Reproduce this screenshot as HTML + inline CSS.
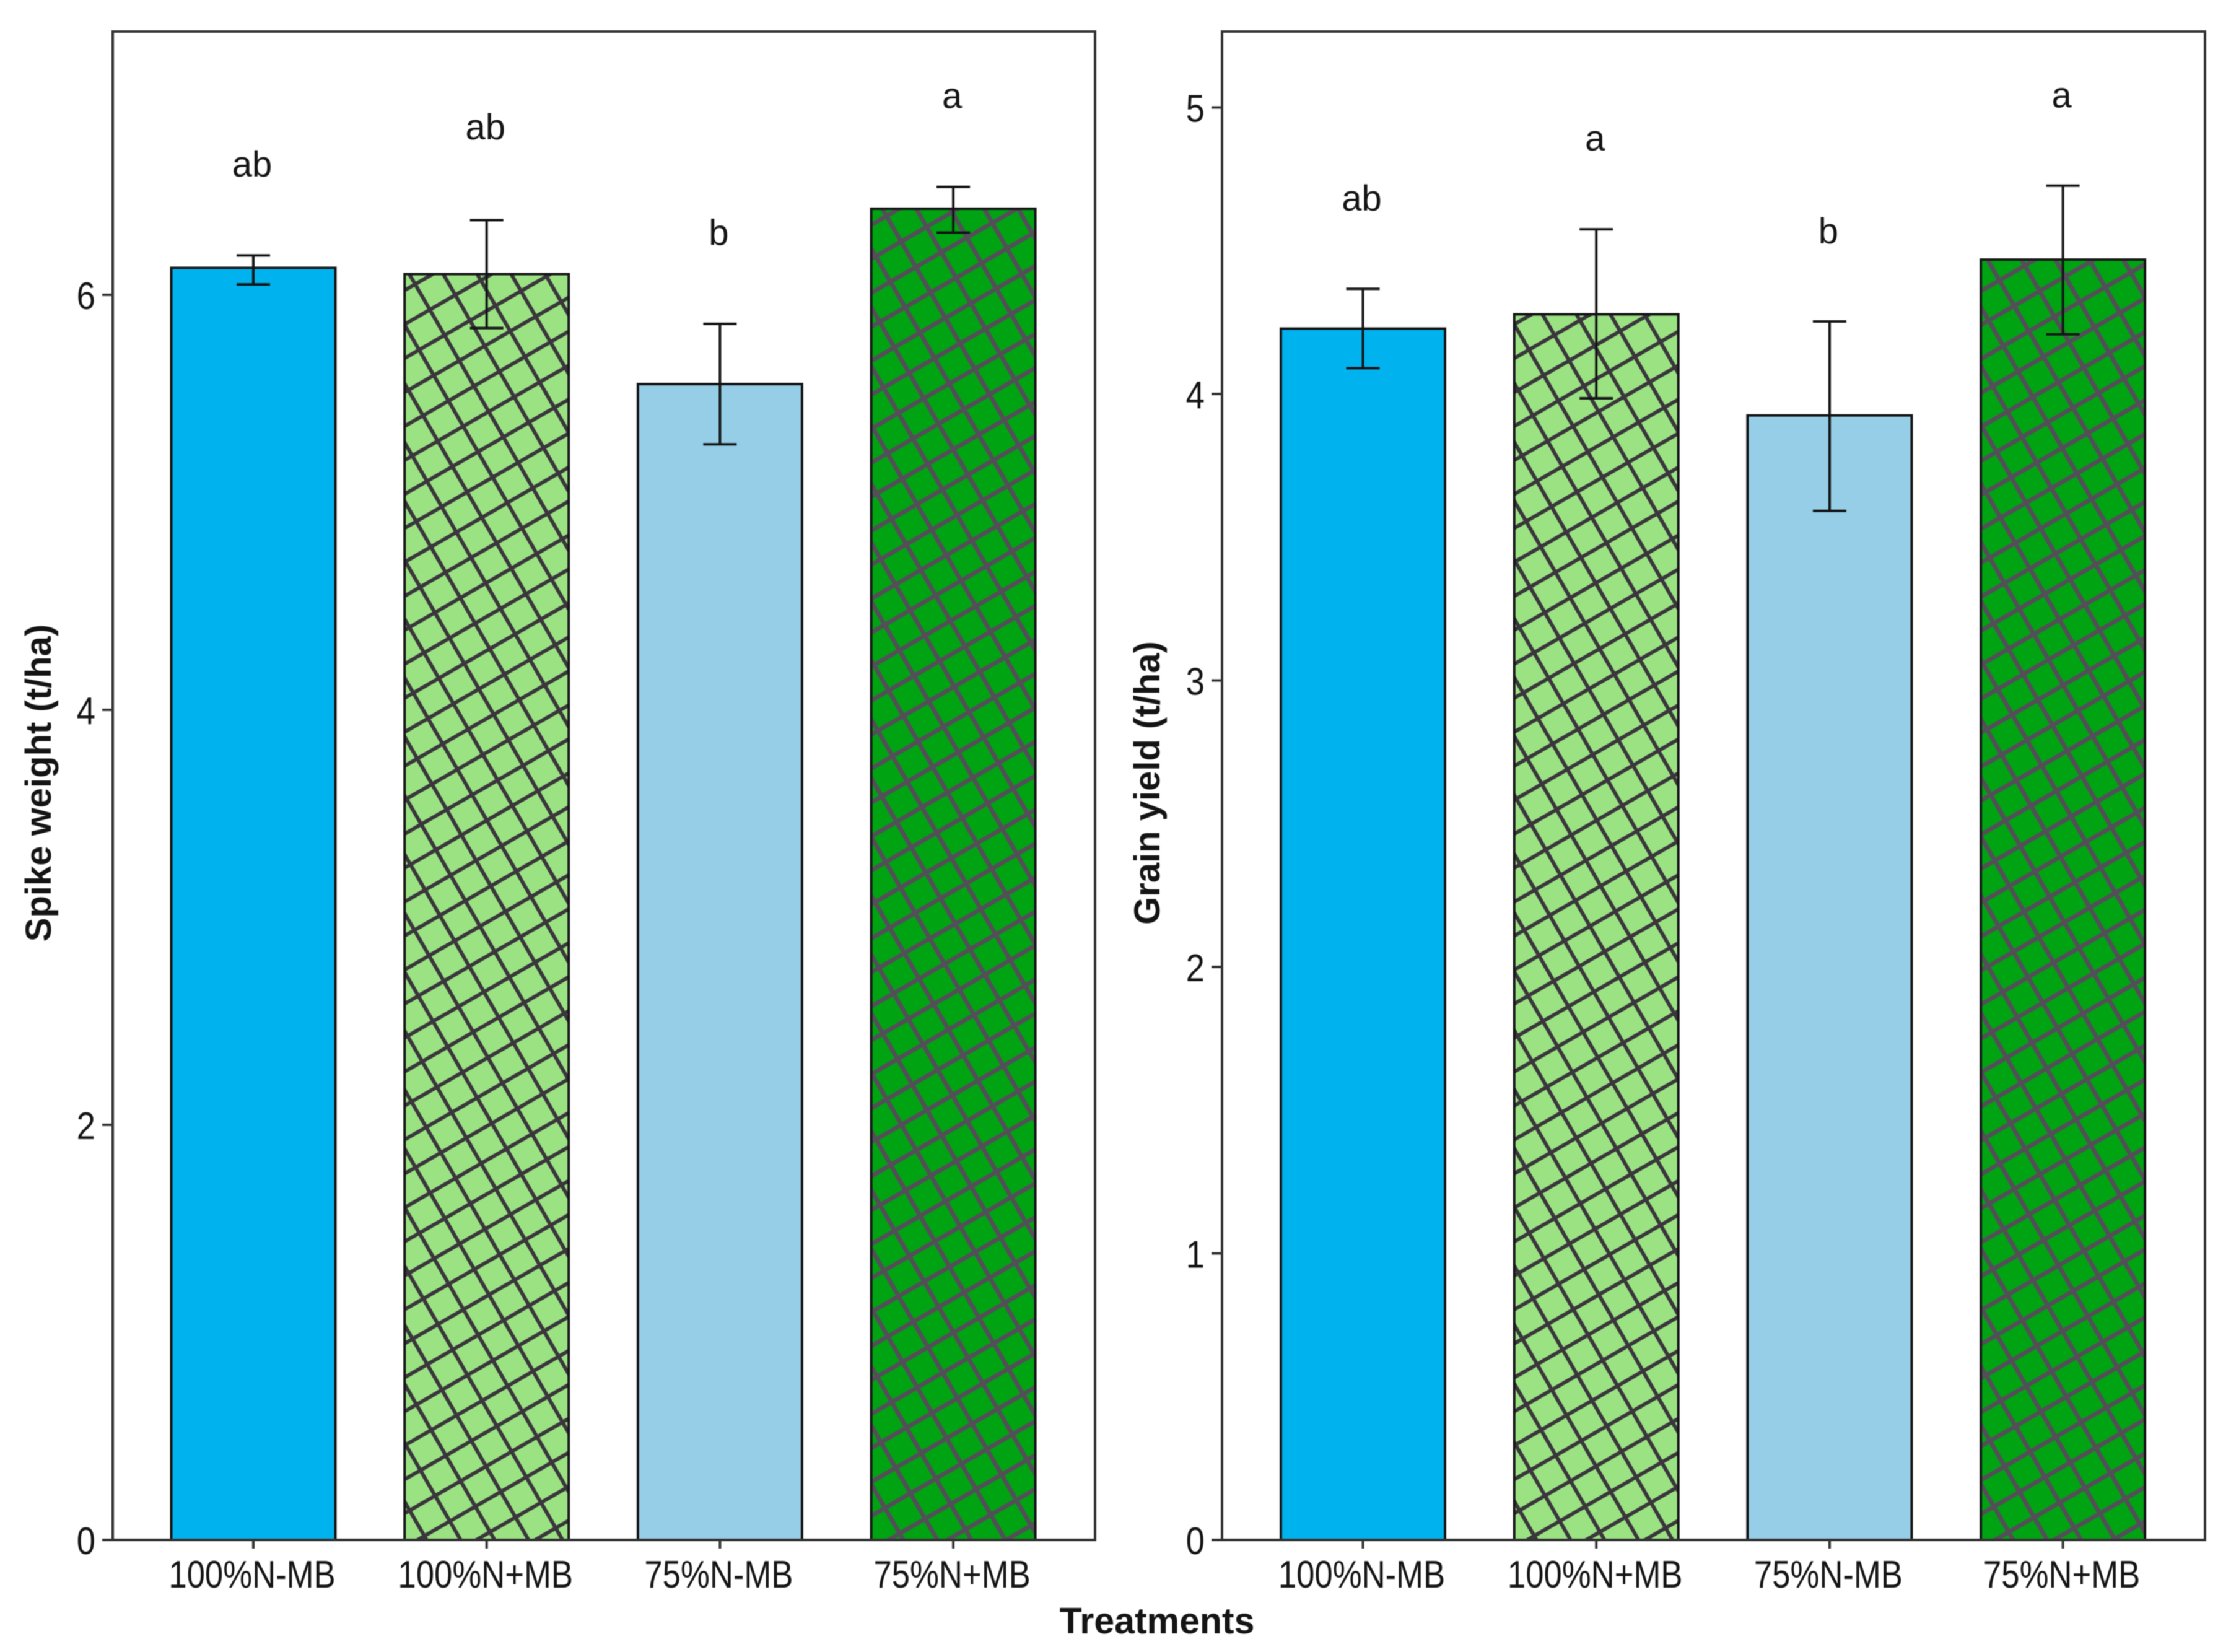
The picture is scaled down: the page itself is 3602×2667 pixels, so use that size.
<!DOCTYPE html>
<html lang="en">
<head>
<meta charset="utf-8">
<title>Spike weight and grain yield by treatment</title>
<style>
  html, body { margin: 0; padding: 0; background: #ffffff; }
  #figure { display: block; filter: blur(0.7px); }
  text { font-family: "Liberation Sans", sans-serif; fill: #141414; }
</style>
</head>
<body>
<svg id="figure" xmlns="http://www.w3.org/2000/svg" width="3602" height="2667" viewBox="0 0 3602 2667">
  <defs>
    <pattern id="hatch-spike-1" width="47.5" height="47.5" patternUnits="userSpaceOnUse" patternTransform="translate(694 500) rotate(-30)">
      <path d="M0 0H47.5M0 47.5H47.5M0 0V47.5M47.5 0V47.5" fill="none" stroke="#3a363c" stroke-width="6"/>
    </pattern>
    <pattern id="hatch-spike-3" width="47.5" height="47.5" patternUnits="userSpaceOnUse" patternTransform="translate(1455 390) rotate(-30)">
      <path d="M0 0H47.5M0 47.5H47.5M0 0V47.5M47.5 0V47.5" fill="none" stroke="#544e58" stroke-width="7"/>
    </pattern>
    <pattern id="hatch-grain-1" width="47.5" height="47.5" patternUnits="userSpaceOnUse" patternTransform="translate(2553 2326) rotate(-30)">
      <path d="M0 0H47.5M0 47.5H47.5M0 0V47.5M47.5 0V47.5" fill="none" stroke="#3a363c" stroke-width="6"/>
    </pattern>
    <pattern id="hatch-grain-3" width="47.5" height="47.5" patternUnits="userSpaceOnUse" patternTransform="translate(3293 470) rotate(-30)">
      <path d="M0 0H47.5M0 47.5H47.5M0 0V47.5M47.5 0V47.5" fill="none" stroke="#544e58" stroke-width="7"/>
    </pattern>
  </defs>
  <g id="spike-panel"></g>
  <g id="grain-panel"></g>
  <text x="1868" y="2637" text-anchor="middle" font-size="59" font-weight="700">Treatments</text>
</svg>
<script>
const categories = ['100%N-MB', '100%N+MB', '75%N-MB', '75%N+MB'];
const barFills = ['#00b3ee', '#9be283', '#95cee6', '#00a312'];

const spikeValues = [6.13, 6.10, 5.57, 6.415];
const spikeUpper = [6.19, 6.36, 5.86, 6.52];
const spikeLower = [6.05, 5.84, 5.28, 6.30];
const spikeLetters = ['ab', 'ab', 'b', 'a'];
const spikeLetterLevels = [6.57, 6.75, 6.24, 6.90];
const spikeTicks = [0, 2, 4, 6];

const grainValues = [4.228, 4.278, 3.925, 4.469];
const grainUpper = [4.367, 4.575, 4.253, 4.727];
const grainLower = [4.09, 3.985, 3.592, 4.208];
const grainLetters = ['ab', 'a', 'b', 'a'];
const grainLetterLevels = [4.64, 4.85, 4.525, 5.0];
const grainTicks = [0, 1, 2, 3, 4, 5];

const SVG_NS = 'http://www.w3.org/2000/svg';
const PANEL_TOP = 51;
const PANEL_BOTTOM = 2486;
const BAR_WIDTH = 265;
const CAP_HALF = 27;

function make(parent, tag, attrs, content) {
  const el = document.createElementNS(SVG_NS, tag);
  for (const key of Object.keys(attrs)) el.setAttribute(key, attrs[key]);
  if (content !== undefined) el.textContent = content;
  parent.appendChild(el);
  return el;
}

function drawPanel(cfg) {
  const root = document.getElementById(cfg.rootId);
  const y = v => PANEL_BOTTOM - v * cfg.unitPx;
  const x = i => cfg.firstCenter + i * cfg.step;

  cfg.values.forEach((value, i) => {
    const left = x(i) - BAR_WIDTH / 2;
    const top = y(value);
    const height = PANEL_BOTTOM - top;
    const fill = make(root, 'rect', { x: left, y: top, width: BAR_WIDTH, height: height, fill: barFills[i] });
    
    
    if (cfg.hatches[i]) {
      const hatch = make(root, 'rect', { x: left, y: top, width: BAR_WIDTH, height: height, fill: 'url(#' + cfg.hatches[i] + ')' });
      
      
    }
    const outline = make(root, 'rect', { x: left, y: top, width: BAR_WIDTH, height: height, fill: 'none', stroke: '#151517', 'stroke-width': 4 });
    
    
  });

  cfg.values.forEach((value, i) => {
    const cx = x(i);
    const hi = y(cfg.upper[i]);
    const lo = y(cfg.lower[i]);
    const d = 'M' + (cx - CAP_HALF) + ' ' + hi + 'H' + (cx + CAP_HALF) +
              'M' + cx + ' ' + hi + 'V' + lo +
              'M' + (cx - CAP_HALF) + ' ' + lo + 'H' + (cx + CAP_HALF);
    const err = make(root, 'path', { d: d, fill: 'none', stroke: '#141416', 'stroke-width': 4 });
    
    

    const letter = make(root, 'text', { x: cx - 2, y: y(cfg.letterLevels[i]), 'text-anchor': 'middle', 'font-size': 58 }, cfg.letters[i]);
    
    

    const tick = make(root, 'line', { x1: cx, x2: cx, y1: PANEL_BOTTOM, y2: PANEL_BOTTOM + 14, stroke: '#333', 'stroke-width': 4 });
    
    

    const label = make(root, 'text', { transform: 'translate(' + (cx - 2) + ' 2563) scale(0.85 1)', 'text-anchor': 'middle', 'font-size': 62, fill: '#1a1a1a' }, categories[i]);
    
    
  });

  cfg.ticks.forEach(t => {
    const ty = y(t);
    const tick = make(root, 'line', { x1: cfg.left - 17, x2: cfg.left, y1: ty, y2: ty, stroke: '#333', 'stroke-width': 4 });
    
    
    const label = make(root, 'text', { transform: 'translate(' + (cfg.left - 28) + ' ' + (ty + 23) + ') scale(0.88 1)', 'text-anchor': 'end', 'font-size': 62, fill: '#1a1a1a' }, String(t));
    
    
  });

  const frame = make(root, 'rect', { x: cfg.left, y: PANEL_TOP, width: cfg.right - cfg.left, height: PANEL_BOTTOM - PANEL_TOP, fill: 'none', stroke: '#333', 'stroke-width': 4 });
  
  

  const title = make(root, 'text', { x: cfg.titleX, y: 1264, 'text-anchor': 'middle', 'font-size': 58, 'font-weight': 700, transform: 'rotate(-90 ' + cfg.titleX + ' 1264)' }, cfg.title);
  
  
}

drawPanel({
  rootId: 'spike-panel', left: 182, right: 1768, unitPx: 335,
  firstCenter: 409, step: 376.7, titleX: 82, title: 'Spike weight (t/ha)',
  values: spikeValues, upper: spikeUpper, lower: spikeLower,
  letters: spikeLetters, letterLevels: spikeLetterLevels, ticks: spikeTicks,
  hatches: [null, 'hatch-spike-1', null, 'hatch-spike-3']
});
drawPanel({
  rootId: 'grain-panel', left: 1973, right: 3560, unitPx: 462.5,
  firstCenter: 2200.5, step: 376.7, titleX: 1872, title: 'Grain yield (t/ha)',
  values: grainValues, upper: grainUpper, lower: grainLower,
  letters: grainLetters, letterLevels: grainLetterLevels, ticks: grainTicks,
  hatches: [null, 'hatch-grain-1', null, 'hatch-grain-3']
});
</script>
</body>
</html>
